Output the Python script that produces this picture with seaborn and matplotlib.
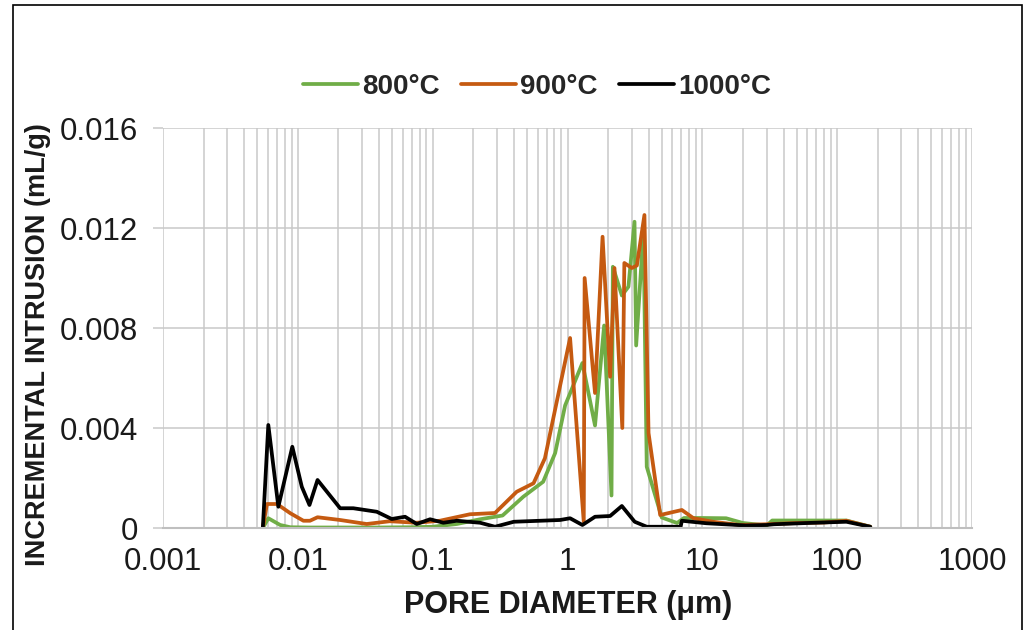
import numpy as np
import pandas as pd
import matplotlib
matplotlib.use("Agg")
import matplotlib.pyplot as plt
from matplotlib.patches import Rectangle
from matplotlib.ticker import FixedLocator, FixedFormatter, LogLocator, NullFormatter
import seaborn as sns

# ---------------- data ----------------
series_names = ["800°C", "900°C", "1000°C"]
series_colors = ["#70AD47", "#C55A11", "#000000"]

d_800 = [0.0055, 0.00604, 0.0074, 0.0088, 0.012, 0.02, 0.04, 0.07, 0.1, 0.151,
         0.225, 0.33, 0.47, 0.66, 0.81, 0.96, 1.29, 1.6, 1.87, 2.12, 2.17, 2.53,
         2.83, 3.14, 3.23, 3.66, 3.87, 5.0, 6.5, 7.3, 10, 15, 20, 30, 33, 50, 80,
         117, 176]
v_800 = [0.0, 0.00039, 0.00012, 0.00003, 0.00002, 0.00002, 0.00002, 0.00003,
         0.00005, 0.00016, 0.00035, 0.0005, 0.00125, 0.00185, 0.003, 0.0049,
         0.0066, 0.0041, 0.0081, 0.0013, 0.01045, 0.0093, 0.00965, 0.01225,
         0.0073, 0.0119, 0.00245, 0.00042, 0.0002, 0.0004, 0.0004, 0.00039,
         0.0002, 0.0001, 0.0003, 0.0003, 0.0003, 0.0003, 0.00005]

d_900 = [0.0055, 0.0059, 0.007, 0.0088, 0.011, 0.0123, 0.014, 0.0206, 0.0324,
         0.048, 0.076, 0.113, 0.189, 0.29, 0.42, 0.56, 0.68, 1.045, 1.32, 1.34,
         1.6, 1.82, 2.07, 2.23, 2.55, 2.64, 3.0, 3.27, 3.72, 3.99, 4.87, 7.05,
         8.6, 12, 19, 30, 50, 80, 117, 176]
v_900 = [0.0, 0.00096, 0.00096, 0.00059, 0.00029, 0.00029, 0.00043, 0.00032,
         0.00016, 0.00027, 0.00021, 0.00029, 0.00055, 0.0006, 0.00145, 0.00179,
         0.00279, 0.0076, 0.00025, 0.0100, 0.0054, 0.01165, 0.00605, 0.0104,
         0.004, 0.0106, 0.0104, 0.0105, 0.01252, 0.0038, 0.00052, 0.00072,
         0.00039, 0.00025, 0.00012, 0.00015, 0.0002, 0.00022, 0.00029, 0.00005]

d_1000 = [0.0055, 0.00604, 0.00717, 0.0091, 0.0107, 0.0122, 0.014, 0.0206,
          0.0258, 0.0385, 0.0497, 0.0624, 0.0762, 0.0957, 0.12, 0.151, 0.225,
          0.29, 0.4, 0.88, 1.045, 1.29, 1.6, 2.07, 2.53, 3.15, 3.87, 6.9, 7.05,
          10.7, 21, 30, 34, 60, 117, 176]
v_1000 = [0.0, 0.00412, 0.00085, 0.00325, 0.00165, 0.00092, 0.00192, 0.00079,
          0.00079, 0.00065, 0.00036, 0.00045, 0.00016, 0.00035, 0.00021,
          0.00029, 0.00021, 0.00005, 0.00025, 0.00032, 0.00039, 0.00012,
          0.00045, 0.00048, 0.00088, 0.00025, 0.00005, 0.00005, 0.00029,
          0.00019, 0.0001, 0.00012, 0.00015, 0.0002, 0.00025, 0.00005]

x_ticks = [0.001, 0.01, 0.1, 1, 10, 100, 1000]
x_tick_labels = ["0.001", "0.01", "0.1", "1", "10", "100", "1000"]
y_ticks = [0, 0.004, 0.008, 0.012, 0.016]
y_tick_labels = ["0", "0.004", "0.008", "0.012", "0.016"]

x_title = "PORE DIAMETER (μm)"
y_title = "INCREMENTAL INTRUSION (mL/g)"

# ---------------- frame ----------------
frames = []
for name, d, v in zip(series_names, [d_800, d_900, d_1000], [v_800, v_900, v_1000]):
    frames.append(pd.DataFrame({"d": d, "v": v, "series": name}))
df = pd.concat(frames, ignore_index=True)

sns.set_theme(style="white")
plt.rcParams["font.family"] = ["Liberation Sans", "DejaVu Sans"]

fig = plt.figure(figsize=(10.25, 6.3), dpi=100)
ax = fig.add_axes([163 / 1025, 1 - 528 / 630, (972 - 163) / 1025, 400 / 630])

sns.lineplot(data=df, x="d", y="v", hue="series", hue_order=series_names,
             palette=dict(zip(series_names, series_colors)), estimator=None,
             sort=False, linewidth=2.7, ax=ax, legend=True)

ax.set_xscale("log")
ax.set_xlim(0.001, 1000)
ax.set_ylim(0, 0.016)

grid_c = "#c9c9c9"
ax.xaxis.set_major_locator(FixedLocator(x_ticks))
ax.xaxis.set_major_formatter(FixedFormatter(x_tick_labels))
ax.xaxis.set_minor_locator(LogLocator(base=10, subs=np.arange(2, 10)))
ax.xaxis.set_minor_formatter(NullFormatter())
ax.yaxis.set_major_locator(FixedLocator(y_ticks))
ax.yaxis.set_major_formatter(FixedFormatter(y_tick_labels))

ax.grid(which="major", axis="both", color=grid_c, linewidth=1.1)
ax.grid(which="minor", axis="x", color=grid_c, linewidth=1.1)
ax.set_axisbelow(True)

for s in ["top", "right", "left"]:
    ax.spines[s].set_visible(False)
ax.spines["bottom"].set_color("#bfbfbf")
ax.spines["bottom"].set_linewidth(1.5)

ax.tick_params(axis="x", which="major", direction="out", length=5.5, width=1.1,
               color="#bfbfbf", labelsize=22.5, pad=8, labelcolor="#1a1a1a")
ax.tick_params(axis="x", which="minor", length=0)
ax.tick_params(axis="y", which="major", direction="out", length=7, width=1.1,
               color=grid_c, labelsize=22.5, pad=11, labelcolor="#1a1a1a", left=True)

ax.set_xlabel(x_title, fontsize=22, fontweight="bold", va="center", color="#1a1a1a")
ax.xaxis.set_label_coords((568 - 163) / 809, (528 - 605) / 400)
ax.set_ylabel(y_title, fontsize=19.5, fontweight="bold", va="center", color="#1a1a1a")
ax.yaxis.set_label_coords((38 - 163) / 809, (528 - 345) / 400)

handles, labels = ax.get_legend_handles_labels()
ax.get_legend().remove()
fig.legend(handles, labels, loc="center", bbox_to_anchor=(537 / 1025, 1 - 87 / 630),
           ncol=3, frameon=False, handlelength=2.0, handletextpad=0.15,
           columnspacing=0.75, prop={"weight": "bold", "size": 20})

fig.add_artist(Rectangle((13 / 1025, -0.05), (1022 - 13) / 1025, 1.05 - 5 / 630,
                         transform=fig.transFigure, fill=False, edgecolor="black",
                         linewidth=1.2))

fig.savefig("out.png", dpi=100)
